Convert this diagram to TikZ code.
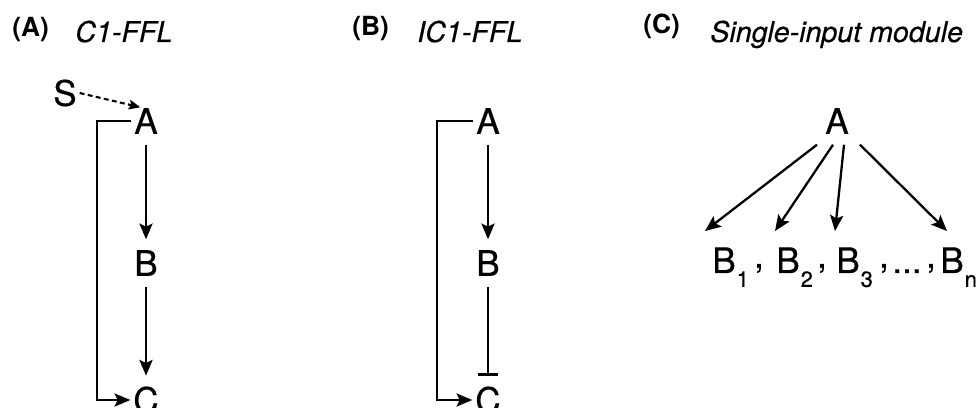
\documentclass[tikz,border=0pt]{standalone}
\usepackage{fontspec}
\setmainfont{TeX Gyre Heros}
\newfontfamily\genefont[FakeBold=0.5]{TeX Gyre Heros}
\usetikzlibrary{arrows.meta,calc}

\tikzset{
  gene/.style={inner xsep=1.5pt,inner ysep=6pt,font=\fontsize{20}{20}\genefont},
  rowtxt/.style={inner sep=0pt,font=\fontsize{20}{20}\genefont},
  act/.style={-{Stealth[length=9pt,width=7.5pt,inset=1.8pt]},line width=1.3pt},
  rep/.style={-{Bar[width=11pt]},line width=1.3pt},
  sig/.style={-{Stealth[length=6.5pt,width=5.5pt,inset=1.2pt]},line width=1.2pt,dash pattern=on 2.8pt off 1.9pt},
  panel/.style={anchor=base west,inner sep=0pt,font=\fontsize{15}{15}\selectfont\bfseries},
  title/.style={anchor=base west,inner sep=0pt,font=\fontsize{16.3}{16.3}\genefont\itshape},
}
\newcommand{\lowidx}[1]{\hspace{0.5pt}\raisebox{-7.9pt}{\fontsize{12.5}{12.5}\genefont #1}}
\newcommand{\upcomma}{\raisebox{3pt}{,}}

\begin{document}
\begin{tikzpicture}[x=0.02cm,y=-0.02cm]
\useasboundingbox (0,0) rectangle (979,408);
\clip (0,0) rectangle (979,408);
% (A) coherent FFL
\node[panel] (la) at (12,37) {(A)};
\node[title] (ta) at (75,42) {C1-FFL};
\node[gene] (s1) at (65,93) {S};
\node[gene] (a1) at (146,121) {A};
\node[gene] (b1) at (146,263) {B};
\node[gene] (c1) at (146,400) {C};
\draw[sig] (s1.east) -- ($(a1.north west)+(9,10)$);
\draw[act] (a1) -- (b1);
\draw[act] (b1) -- (c1);
\draw[act] (a1.west) -- ++(-34,0) |- (c1.west);
% (B) incoherent FFL
\node[panel] (lb) at (352,36) {(B)};
\node[title] (tb) at (417,42) {IC1-FFL};
\node[gene] (a2) at (488,121) {A};
\node[gene] (b2) at (488,263) {B};
\node[gene] (c2) at (488,400) {C};
\draw[act] (a2) -- (b2);
\draw[rep] (b2) -- (c2);
\draw[act] (a2.west) -- ++(-36,0) |- (c2.west);
% (C) single-input module
\node[panel] (lc) at (643,34) {(C)};
\node[title] (tc) at (710,42) {Single-input module};
\node[gene] (a3) at (837,121) {A};
\node[rowtxt,anchor=base west] (b31) at (712,273) {B\lowidx{1}};
\node[rowtxt,anchor=base] (k1) at (759,273) {\upcomma};
\node[rowtxt,anchor=base west] (b32) at (776,273) {B\lowidx{2}};
\node[rowtxt,anchor=base] (k2) at (822,273) {\upcomma};
\node[rowtxt,anchor=base west] (b33) at (836,273) {B\lowidx{3}};
\node[rowtxt,anchor=base] (k3) at (884,273) {\upcomma};
\node[rowtxt,anchor=base] (dd) at (907,273) {...};
\node[rowtxt,anchor=base] (k4) at (931,273) {\upcomma};
\node[rowtxt,anchor=base west] (b3n) at (940,273) {B\lowidx{n}};
\draw[act] ($(a3.south)+(-20,0)$) -- ($(b31.north west)+(-7,-16)$);
\draw[act] ($(a3.south)+(-4,0)$) -- ($(b32.north west)+(-1,-16)$);
\draw[act] ($(a3.south)+(7,0)$) -- ($(b33.north west)+(-1,-16)$);
\draw[act] ($(a3.south)+(23,0)$) -- ($(b3n.north west)+(7,-16)$);
\end{tikzpicture}
\end{document}
